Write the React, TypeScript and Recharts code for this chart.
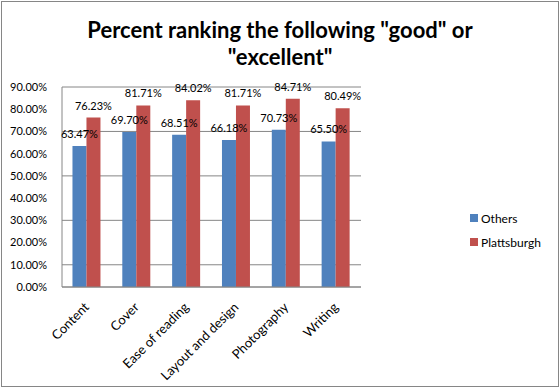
import { BarChart, Bar, XAxis, YAxis, CartesianGrid, Legend, LabelList } from 'recharts';

const categories = ['Content', 'Cover', 'Ease of reading', 'Layout and design', 'Photography', 'Writing'];
const others = [63.47, 69.7, 68.51, 66.18, 70.73, 65.5];
const plattsburgh = [76.23, 81.71, 84.02, 81.71, 84.71, 80.49];
const yTicks = [0, 10, 20, 30, 40, 50, 60, 70, 80, 90];

const chartData = categories.map((name, i) => ({
  name,
  others: others[i],
  plattsburgh: plattsburgh[i],
}));

const FONT = 'Lato, "Open Sans", sans-serif';
const pct = (v: any) => `${Number(v).toFixed(2)}%`;

function XTick({ x, y, payload }: any) {
  return (
    <g transform={`translate(${x + 3},${y + 13})`}>
      <text textAnchor="end" transform="rotate(-45)" fontSize={13} fill="#000" fontFamily={FONT}>
        {payload.value}
      </text>
    </g>
  );
}

function LegendBox() {
  const items = [
    { label: 'Others', color: '#4F81BD' },
    { label: 'Plattsburgh', color: '#C0504D' },
  ];
  return (
    <div style={{ fontFamily: FONT, fontSize: 12, color: '#000' }}>
      {items.map(it => (
        <div key={it.label} style={{ display: 'flex', alignItems: 'center', height: 24 }}>
          <span style={{ width: 8, height: 8, background: it.color, marginRight: 3 }} />
          {it.label}
        </div>
      ))}
    </div>
  );
}

export default function App() {
  return (
    <div style={{ position: 'absolute', left: 0, top: 0, width: 560, height: 389, background: '#fff' }}>
      <div
        style={{
          position: 'absolute', left: 1, top: 1, width: 556, height: 384,
          border: '1px solid #868686', boxSizing: 'content-box',
        }}
      />
      <div
        style={{
          position: 'absolute', left: 0, top: 16, width: 560, textAlign: 'center',
          fontFamily: FONT, fontWeight: 700, fontSize: 22, lineHeight: '27px', color: '#000',
        }}
      >
        Percent ranking the following "good" or
        <br />
        "excellent"
      </div>
      <BarChart
        width={560}
        height={389}
        data={chartData}
        margin={{ top: 87, right: 109, bottom: 0, left: 0 }}
        barCategoryGap="21%"
        barGap={0}
      >
        <CartesianGrid vertical={false} stroke="#868686" />
        <XAxis
          dataKey="name"
          height={102}
          interval={0}
          tickLine={false}
          axisLine={{ stroke: '#868686' }}
          tick={<XTick />}
        />
        <YAxis
          width={62}
          domain={[0, 90]}
          ticks={yTicks}
          tickLine={false}
          axisLine={{ stroke: '#868686' }}
          tickFormatter={pct}
          tick={{ fontSize: 11, fill: '#000', fontFamily: FONT }}
          tickMargin={9}
        />
        <Legend
          layout="vertical"
          verticalAlign="top"
          align="right"
          content={<LegendBox />}
          wrapperStyle={{ position: 'absolute', left: 470, top: 206, width: 90 }}
        />
        <Bar dataKey="others" name="Others" fill="#4F81BD" isAnimationActive={false}>
          <LabelList dataKey="others" position="top" offset={8} formatter={pct} fontSize={11} fill="#000" fontFamily={FONT} />
        </Bar>
        <Bar dataKey="plattsburgh" name="Plattsburgh" fill="#C0504D" isAnimationActive={false}>
          <LabelList dataKey="plattsburgh" position="top" offset={8} formatter={pct} fontSize={11} fill="#000" fontFamily={FONT} />
        </Bar>
      </BarChart>
    </div>
  );
}
